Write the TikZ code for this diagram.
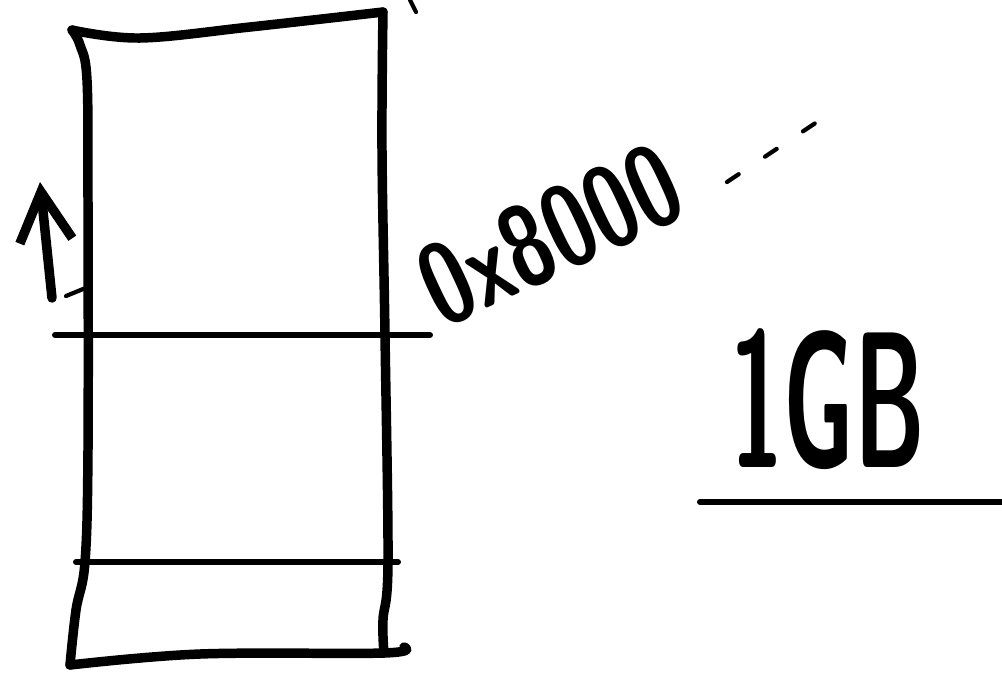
\documentclass[tikz,border=0pt]{standalone}
\usetikzlibrary{arrows.meta, math}

\begin{document}
\begin{tikzpicture}[x=0.02cm, y=-0.02cm, line cap=round, line join=round,
  pen/.style={line width=5.4pt},
  rule/.style={line width=3.4pt},
  thinpen/.style={line width=2.4pt},
  scrawl/.style={font=\sffamily\bfseries\fontsize{48}{48}\selectfont, inner sep=0pt}]
\tikzmath{
\yA=335;
\yB=562;
}
\useasboundingbox (0,0) rectangle (1002,681);

\coordinate (TL) at (72,30);
\coordinate (TR) at (383,12);
\coordinate (BL) at (70,665);
\coordinate (BR) at (384,653);

% the memory block
\draw[pen] plot[smooth, tension=0.6] coordinates {(TL) (140,38) (250,27) (TR)};
\draw[pen] plot[smooth, tension=0.6] coordinates {(TR) (382,150) (385,\yA) (388,\yB) (383,620) (BR)};
\draw[pen] plot[smooth, tension=0.6] coordinates {(BL) (76,610) (85,\yB) (88,450) (88,200) (87,80) (80,45) (TL)};
\draw[pen] plot[smooth, tension=0.6] coordinates {(BL) (200,654) (BR) (404,647)};
\draw[thinpen] (410,0) -- (416,12);

\draw[rule] (55,\yA) -- (430,\yA);
\draw[rule] (76,\yB) -- (398,\yB);

% growth arrow
\coordinate (up0) at (52,298);
\coordinate (up1) at (40,182);
\draw[pen, -{Straight Barb[length=28pt, width=30pt]}] (up0) -- (up1);
\draw[thinpen] (66,296) -- (88,287);

% labels
\node[scrawl, rotate=25, yscale=1.35] (addr) at (550,235) {0x8000};
\draw[thinpen, dash pattern=on 8pt off 18pt] (727,182) -- (826,116);

\node[scrawl, xscale=1.15, yscale=2.3] (size) at (828,399) {1GB};
\draw[rule] (700,502) -- (1002,502);

\end{tikzpicture}
\end{document}
